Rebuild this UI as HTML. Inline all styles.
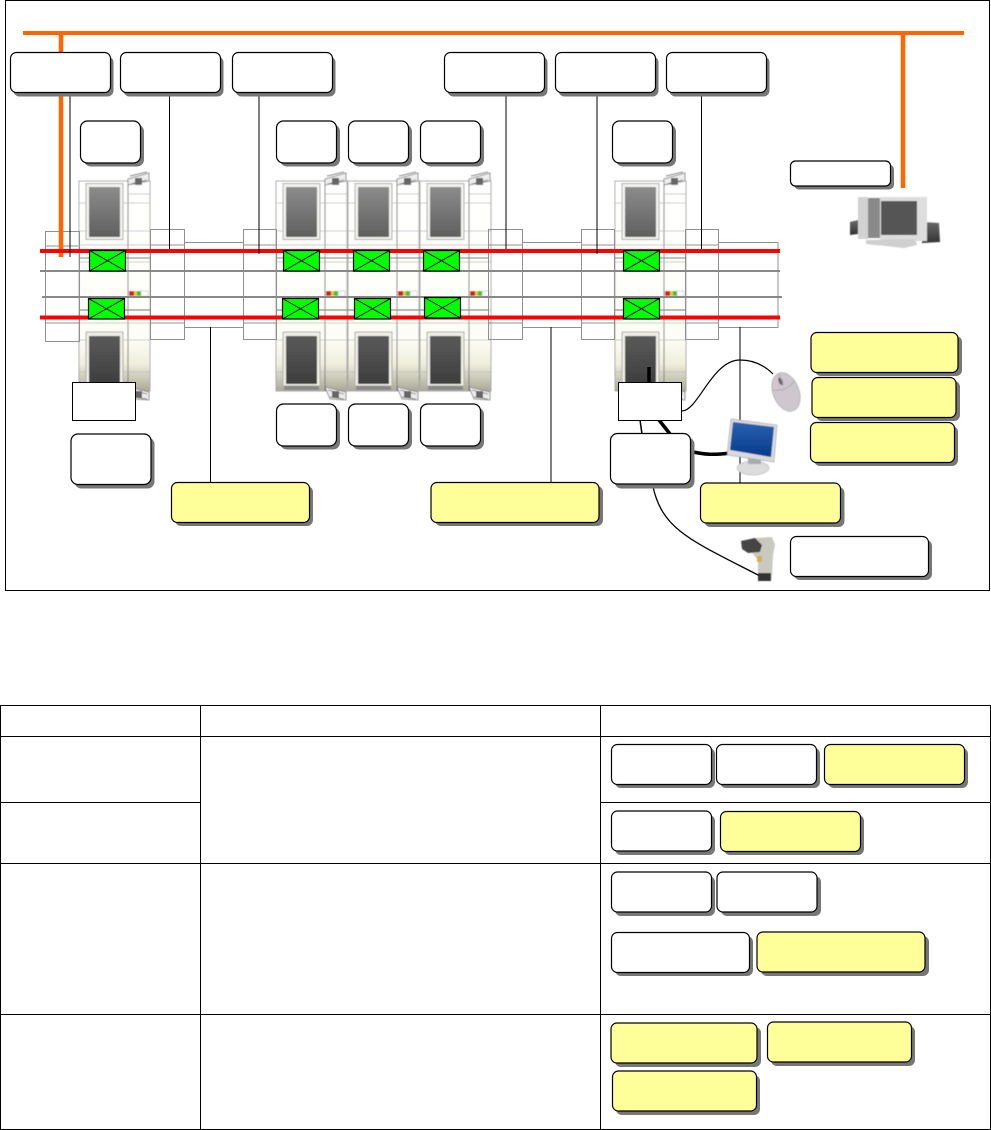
<!DOCTYPE html>
<html><head><meta charset="utf-8"><style>html,body{margin:0;padding:0;background:#fff;width:991px;height:1130px;overflow:hidden}svg{display:block}</style></head><body>
<svg width="991" height="1130" viewBox="0 0 991 1130" xmlns="http://www.w3.org/2000/svg">
<defs>
<filter id="soft" x="-5%" y="-5%" width="110%" height="110%"><feGaussianBlur stdDeviation=".45"/></filter>
<linearGradient id="body" x1="0" y1="181" x2="0" y2="391" gradientUnits="userSpaceOnUse"><stop offset="0" stop-color="#fff"/><stop offset=".75" stop-color="#fdfdf7"/><stop offset=".87" stop-color="#efefdc"/><stop offset="1" stop-color="#aaa998"/></linearGradient>
<linearGradient id="w1" x1="0" y1="187" x2="0" y2="237" gradientUnits="userSpaceOnUse"><stop offset="0" stop-color="#8c8c8c"/><stop offset="1" stop-color="#5f5f5f"/></linearGradient>
<linearGradient id="w2" x1="0" y1="336" x2="0" y2="384" gradientUnits="userSpaceOnUse"><stop offset="0" stop-color="#5a5a5a"/><stop offset="1" stop-color="#3e3e3e"/></linearGradient>
<linearGradient id="scr" x1="0" y1="0" x2="0" y2="1"><stop offset="0" stop-color="#2a62b0"/><stop offset="1" stop-color="#053a8a"/></linearGradient>
<linearGradient id="pcs" x1="0" y1="0" x2="0" y2="1"><stop offset="0" stop-color="#6a6a6a"/><stop offset="1" stop-color="#333"/></linearGradient>
<g id="m">
<rect x="0" y="181" width="49" height="210" fill="url(#body)" stroke="#aaa" stroke-width="1"/>
<rect x="49" y="181" width="22" height="210" fill="url(#body)" stroke="#aaa" stroke-width="1"/>
<path d="M49 181V391" stroke="#777" stroke-width="1"/>
<path d="M0 203H49M0 231H71M49 194H71M49 203H71M0 245H71M0 262H71M0 310H71M0 323H71M0 340H71M0 372H71" stroke="#bbb" stroke-width=".8" fill="none"/>
<rect x="7" y="183.500" width="37" height="56" fill="#f2f2ee" stroke="#aaa"/>
<rect x="10" y="187" width="31" height="50" fill="url(#w1)"/>
<rect x="7" y="332" width="37" height="54" fill="#eeeee4" stroke="#aaa"/>
<rect x="10" y="336" width="31" height="48" fill="url(#w2)"/>
<rect x="8" y="386" width="35" height="4" fill="#888"/>
<path d="M49 179L70 173V181L49 185Z" fill="#eee" stroke="#777" stroke-width=".8"/>
<path d="M51 176L68 172M52 184L68 180" stroke="#666" stroke-width=".8"/>
<rect x="56" y="178" width="7" height="7" fill="#666"/>
<path d="M49 387L70 392V400L54 399Z" fill="#eee" stroke="#777" stroke-width=".8"/>
<path d="M52 390L68 394M54 397L68 399" stroke="#666" stroke-width=".8"/>
<rect x="56" y="391" width="7" height="7" fill="#666"/>
<rect x="50" y="291" width="5" height="5" fill="#c22"/><rect x="55" y="291" width="3" height="5" fill="#dc3"/><rect x="58" y="291" width="4" height="5" fill="#4b3"/><rect x="62" y="291" width="7" height="5" fill="#fff" stroke="#bbb" stroke-width=".6"/>
</g>
<g id="xb"><rect x=".5" y=".5" width="36" height="20.5" fill="#0f0" stroke="#000" stroke-width="1.2"/><path d="M.5 .5L36.5 21M36.5 .5L.5 21" stroke="#000" stroke-width="1"/></g>
</defs>

<rect x="5.500" y=".5" width="984" height="590" fill="#fff" stroke="#000" stroke-width="1"/>

<!-- machines -->
<g filter="url(#soft)">
<use href="#m" x="79"/><use href="#m" x="276"/><use href="#m" x="348"/><use href="#m" x="420"/><use href="#m" x="615"/>
</g>

<!-- conveyor frames -->
<g fill="none" stroke="#909090" stroke-width="1">
<rect x="45.500" y="231.500" width="34" height="110"/>
<rect x="150.500" y="229.500" width="34" height="110"/>
<rect x="184.500" y="242.500" width="59" height="85"/>
<rect x="243.500" y="229.500" width="33" height="110"/>
<rect x="488.500" y="229.500" width="34" height="110"/>
<rect x="522.500" y="242.500" width="59" height="85"/>
<rect x="581.500" y="229.500" width="33" height="110"/>
<rect x="685.500" y="229.500" width="33" height="110"/>
<rect x="718.500" y="242.500" width="59.500" height="85"/>
<path d="M45 246H78M150 245H185M244 245H276M489 245H522M582 245H615M686 245H719M45 323H79M150 323H185M244 323H276M489 323H522M582 323H615M686 323H719"/>
</g>
<path d="M79 258H89M126 258H150M276 258H283M320 258H353M390 258H423M460 258H489M615 258H623M660 258H686M79 310H88M125 310H150M276 310H282M318 310H354M391 310H424M461 310H489M615 310H623M660 310H686" stroke="#888" stroke-width="1" fill="none"/>

<path d="M40 271H780M42 297H782" stroke="#888" stroke-width="2" fill="none"/>

<!-- orange network -->
<path d="M23 33H964" stroke="#ff6600" stroke-width="4" fill="none"/>
<path d="M61 33V257M903 33V188" stroke="#ff6600" stroke-width="4.500" fill="none"/>

<!-- red lines -->
<path d="M40 251H780M40 317.500H780" stroke="#f00" stroke-width="4" fill="none"/>

<!-- green -->
<use href="#xb" x="89" y="250"/><use href="#xb" x="283" y="250"/><use href="#xb" x="353" y="250"/><use href="#xb" x="423" y="250"/><use href="#xb" x="623" y="250"/>
<use href="#xb" x="88" y="298"/><use href="#xb" x="282" y="298"/><use href="#xb" x="354" y="298"/><use href="#xb" x="424" y="297"/><use href="#xb" x="623" y="298"/>

<!-- leaders -->
<path d="M70 92V257M169.500 92V249M259 92V254M506 92V249M597 92V254M701.500 92V249M210.500 327V482M551 327V482M740 327V483" stroke="#000" stroke-width="1" fill="none"/>

<!-- cables -->
<path d="M649 367V383" stroke="#000" stroke-width="3.500"/>
<path d="M682 411C698 411 712 360 740 360C755 360 765 366 773 374" stroke="#000" stroke-width="1.200" fill="none"/>
<path d="M640 420L642 434" stroke="#000" stroke-width="1.500"/>
<path d="M659 420L670 434" stroke="#000" stroke-width="3.500"/>
<path d="M689 451C705 455 715 455 730 453" stroke="#000" stroke-width="3.500" fill="none"/>
<path d="M653 487C663 530 690 540 760 576" stroke="#000" stroke-width="1.300" fill="none"/>

<g filter="url(#soft)">
<!-- mouse -->
<g transform="rotate(-22 786 392)"><ellipse cx="786" cy="392" rx="13" ry="20" fill="#cec7ce" stroke="#aaa" stroke-width=".7"/><ellipse cx="785" cy="380" rx="2" ry="4" fill="#666"/><path d="M774 385Q786 392 798 385M786 372V385" stroke="#999" stroke-width=".6" fill="none"/></g>

<!-- monitor -->
<ellipse cx="753" cy="468" rx="16" ry="7" fill="#dcdcdc" stroke="#bbb" stroke-width=".6"/>
<rect x="748" y="456" width="13" height="8" fill="#aaa"/>
<path d="M731 419L777 425L774 462L727 455Z" fill="#d8dadd" stroke="#aaa" stroke-width=".7"/>
<path d="M733 422L774 427L771 457L730 450Z" fill="url(#scr)"/>

<!-- scanner -->
<path d="M755 538L772 537L775 545L773 555L772 575L771 581L758 581L758 560L752 553Z" fill="#c9c9bf"/>
<path d="M741 541L755 538L762 545L760 552L748 553L742 549Z" fill="#444"/>
<rect x="758" y="573" width="13" height="8" fill="#333"/>
<rect x="757" y="556" width="5" height="6" fill="#d8b050"/>

<!-- pc -->
<path d="M850 222L858 220V234L850 235Z" fill="url(#pcs)"/>
<path d="M923 222L939 223L940 242L922 243Z" fill="url(#pcs)"/>
<rect x="858" y="197" width="10" height="42" fill="#d2d2d2"/>
<rect x="868" y="198" width="12" height="40" fill="#8a8a8a"/>
<rect x="880" y="197" width="47" height="44" fill="#ddd"/>
<rect x="881" y="201" width="36" height="34" fill="#555"/>
<path d="M866 240L915 239L917 245L904 248L866 244Z" fill="#cfcfcf"/>
</g>

<!-- callouts -->
<g stroke="#000" stroke-width="1.200">
<g fill="#777" stroke="none">
<rect x="13.500" y="56.500" width="100" height="40" rx="6"/><rect x="123.500" y="56.500" width="100" height="40" rx="6"/><rect x="235.500" y="56.500" width="100" height="40" rx="6"/><rect x="447.500" y="56.500" width="100" height="40" rx="6"/><rect x="558.500" y="56.500" width="100" height="40" rx="6"/><rect x="669.500" y="56.500" width="100" height="40" rx="6"/>
<rect x="84" y="124.500" width="60" height="42" rx="7"/><rect x="280" y="124.500" width="60" height="42" rx="7"/><rect x="352" y="124.500" width="60" height="42" rx="7"/><rect x="424" y="124.500" width="60" height="42" rx="7"/><rect x="616" y="124.500" width="60" height="42" rx="7"/>
<rect x="280" y="407.500" width="60" height="42" rx="7"/><rect x="352" y="407.500" width="60" height="42" rx="7"/><rect x="424" y="407.500" width="60" height="42" rx="7"/>
<rect x="74.500" y="437.500" width="80" height="51" rx="7"/><rect x="614.500" y="437.500" width="80" height="51" rx="7"/>
<rect x="794" y="164.500" width="100" height="25" rx="5"/>
<rect x="794" y="540" width="138" height="40" rx="6"/>
<rect x="175" y="486" width="138" height="40" rx="6"/><rect x="435" y="486" width="168" height="40" rx="6"/><rect x="704.500" y="487" width="140" height="40" rx="6"/>
<rect x="815" y="336" width="147" height="40" rx="6"/><rect x="816" y="381" width="144" height="40" rx="6"/><rect x="814" y="426" width="144" height="40" rx="6"/>
</g>
<g fill="#fff">
<rect x="10.500" y="52.500" width="100" height="40" rx="6"/><rect x="120.500" y="52.500" width="100" height="40" rx="6"/><rect x="232.500" y="52.500" width="100" height="40" rx="6"/><rect x="444.500" y="52.500" width="100" height="40" rx="6"/><rect x="555.500" y="52.500" width="100" height="40" rx="6"/><rect x="666.500" y="52.500" width="100" height="40" rx="6"/>
<rect x="80.500" y="121" width="60" height="42" rx="7"/><rect x="276.500" y="121" width="60" height="42" rx="7"/><rect x="348.500" y="121" width="60" height="42" rx="7"/><rect x="420.500" y="121" width="60" height="42" rx="7"/><rect x="612.500" y="121" width="60" height="42" rx="7"/>
<rect x="276.500" y="404" width="60" height="42" rx="7"/><rect x="348.500" y="404" width="60" height="42" rx="7"/><rect x="420.500" y="404" width="60" height="42" rx="7"/>
<rect x="71" y="434" width="80" height="50.500" rx="7"/><rect x="610.500" y="433.500" width="80" height="50.500" rx="7"/>
<rect x="790.500" y="161" width="100" height="25" rx="5"/>
<rect x="790.500" y="536.500" width="138" height="40" rx="6"/>
<rect x="72.500" y="382.500" width="63" height="38" stroke-width="1"/><rect x="618.500" y="382.500" width="63" height="38" stroke-width="1"/>
</g>
<g fill="#ffff99">
<rect x="171.500" y="482.500" width="138" height="40" rx="6"/><rect x="431" y="482.500" width="168" height="40" rx="6"/><rect x="700.500" y="483" width="140" height="40" rx="6"/>
<rect x="811" y="332.500" width="147" height="40" rx="6"/><rect x="812" y="377.500" width="144" height="40" rx="6"/><rect x="810.500" y="422.500" width="144" height="40" rx="6"/>
</g>
</g>

<!-- table -->
<g fill="none" stroke="#000" stroke-width="1">
<path d="M.5 705V1129.500M200.500 705V1129.500M600.500 705V1129.500M990.500 705V1129.500M0 705.500H991M0 736.500H991M0 802.500H200.500M600.500 802.500H991M0 863.500H991M0 1014.500H991M0 1129.500H991"/>
</g>

<g stroke="#000" stroke-width="1.200">
<g fill="#777" stroke="none">
<rect x="615" y="748" width="100" height="40" rx="6"/><rect x="720" y="748" width="100" height="40" rx="6"/><rect x="828" y="748" width="140" height="40" rx="6"/>
<rect x="615" y="815" width="100" height="40" rx="6"/><rect x="724" y="815" width="140" height="40" rx="6"/>
<rect x="615" y="876" width="100" height="40" rx="6"/><rect x="721" y="876" width="100" height="40" rx="6"/>
<rect x="615" y="936" width="138" height="40" rx="6"/><rect x="761" y="936" width="168" height="40" rx="6"/>
<rect x="615" y="1027" width="146" height="40" rx="6"/><rect x="771" y="1026" width="144" height="40" rx="6"/><rect x="616" y="1075" width="144" height="40" rx="6"/>
</g>
<g fill="#fff">
<rect x="611.500" y="744.500" width="100" height="40" rx="6"/><rect x="716.500" y="744.500" width="100" height="40" rx="6"/>
<rect x="611.500" y="811" width="100" height="40" rx="6"/>
<rect x="611.500" y="872" width="100" height="40" rx="6"/><rect x="717" y="872" width="100" height="40" rx="6"/>
<rect x="611.500" y="932.500" width="138" height="40" rx="6"/>
</g>
<g fill="#ffff99">
<rect x="824.500" y="744.500" width="140" height="40" rx="6"/>
<rect x="720.500" y="811.500" width="140" height="40" rx="6"/>
<rect x="757" y="932" width="168" height="40" rx="6"/>
<rect x="611" y="1023" width="146" height="40" rx="6"/><rect x="767.500" y="1022" width="144" height="40" rx="6"/><rect x="612.500" y="1071" width="144" height="40" rx="6"/>
</g>
</g>
</svg>
</body></html>
